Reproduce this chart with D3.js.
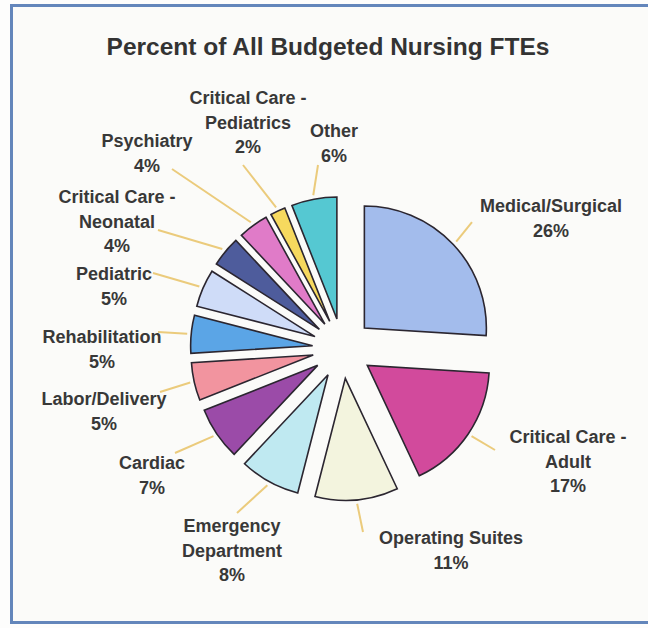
<!DOCTYPE html>
<html>
<head>
<meta charset="utf-8">
<script src="https://cdn.jsdelivr.net/npm/d3@7"></script>
<style>
  html, body { margin: 0; padding: 0; background: #fdfdfc; }
  svg { display: block; }
  text { font-family: "Liberation Sans", Arial, Helvetica, sans-serif; font-weight: bold; }
</style>
</head>
<body>
<script>
// Share of budgeted nursing FTEs by unit (percent), clockwise from 12 o'clock
const categories = [
  "Medical/Surgical", "Critical Care - Adult", "Operating Suites",
  "Emergency Department", "Cardiac", "Labor/Delivery", "Rehabilitation",
  "Pediatric", "Critical Care - Neonatal", "Psychiatry",
  "Critical Care - Pediatrics", "Other"
];
const shares = [26, 17, 11, 8, 7, 5, 5, 5, 4, 4, 2, 6];
const sliceColors = [
  "#a3bcec", "#d24a9c", "#f3f4de", "#bfe9f1", "#9b4ba8", "#f2949f",
  "#5ba5e6", "#cfdcf8", "#4e5c9c", "#e07bc8", "#f6d95e", "#55c8d2"
];
const title = "Percent of All Budgeted Nursing FTEs";

// Layout: label anchor (centre x, first baseline) and the outer end of each leader line
const labelAnchors = [
  [551, 212], [568, 443], [451, 544], [232, 532], [152, 469], [104, 405],
  [102, 343], [114, 280], [117, 203], [147, 147], [248, 104], [334, 137]
];
const leaderEnds = [
  [472, 222], [495, 450], [363, 532], [237, 513], [175, 453], [160, 392],
  [158, 332], [153, 273], [158, 230], [172, 169], [243, 165], [318, 165]
];

const W = 648, H = 628;
const cx = 342.5, cy = 348.5, radius = 122, explode = 30, leaderStart = 156;
const lineGap = 24.5;

const svg = d3.select("body").append("svg")
  .attr("width", W).attr("height", H);

// Frame of the chart area
svg.append("rect")
  .attr("x", 11.5).attr("y", 5.5)
  .attr("width", 700).attr("height", 617)
  .attr("fill", "#fbfbf9")
  .attr("stroke", "#6386bb")
  .attr("stroke-width", 3);

svg.append("text")
  .attr("x", 328).attr("y", 55)
  .attr("text-anchor", "middle")
  .attr("font-size", 24.5)
  .attr("fill", "#333")
  .text(title);

const data = categories.map((name, i) => ({ name, value: shares[i], color: sliceColors[i], i }));

const pie = d3.pie().value(d => d.value).sort(null).startAngle(0).endAngle(2 * Math.PI);
const arc = d3.arc().innerRadius(0).outerRadius(radius);
const arcs = pie(data);

const midAngle = a => (a.startAngle + a.endAngle) / 2;
const polar = (ang, r) => [Math.sin(ang) * r, -Math.cos(ang) * r];

const g = svg.append("g").attr("transform", `translate(${cx},${cy})`);

// Exploded slices
g.selectAll("path.slice")
  .data(arcs)
  .join("path")
  .attr("class", "slice")
  .attr("transform", d => {
    const [dx, dy] = polar(midAngle(d), explode);
    return `translate(${dx},${dy})`;
  })
  .attr("d", arc)
  .attr("fill", d => d.data.color)
  .attr("stroke", "#2b2630")
  .attr("stroke-width", 1.6)
  .attr("stroke-linejoin", "miter");

// Leader lines from each slice to its label
svg.append("g").selectAll("line")
  .data(arcs)
  .join("line")
  .attr("x1", d => cx + polar(midAngle(d), leaderStart)[0])
  .attr("y1", d => cy + polar(midAngle(d), leaderStart)[1])
  .attr("x2", d => leaderEnds[d.data.i][0])
  .attr("y2", d => leaderEnds[d.data.i][1])
  .attr("stroke", "#ebcb7c")
  .attr("stroke-width", 2);

// Category name wrapped onto lines, then the percentage
function wrapName(name) {
  if (name.includes(" - ")) {
    const k = name.indexOf(" - ");
    return [name.slice(0, k + 2), name.slice(k + 3)];
  }
  if (name.length > 16 && name.includes(" ")) {
    const k = name.indexOf(" ");
    return [name.slice(0, k), name.slice(k + 1)];
  }
  return [name];
}

const labels = svg.append("g").selectAll("text")
  .data(arcs)
  .join("text")
  .attr("text-anchor", "middle")
  .attr("font-size", 18)
  .attr("fill", "#383838");

labels.each(function (d) {
  const [x, y] = labelAnchors[d.data.i];
  const lines = wrapName(d.data.name).concat([d.data.value + "%"]);
  d3.select(this).selectAll("tspan")
    .data(lines)
    .join("tspan")
    .attr("x", x)
    .attr("y", (t, j) => y + j * lineGap)
    .text(t => t);
});
</script>
</body>
</html>
